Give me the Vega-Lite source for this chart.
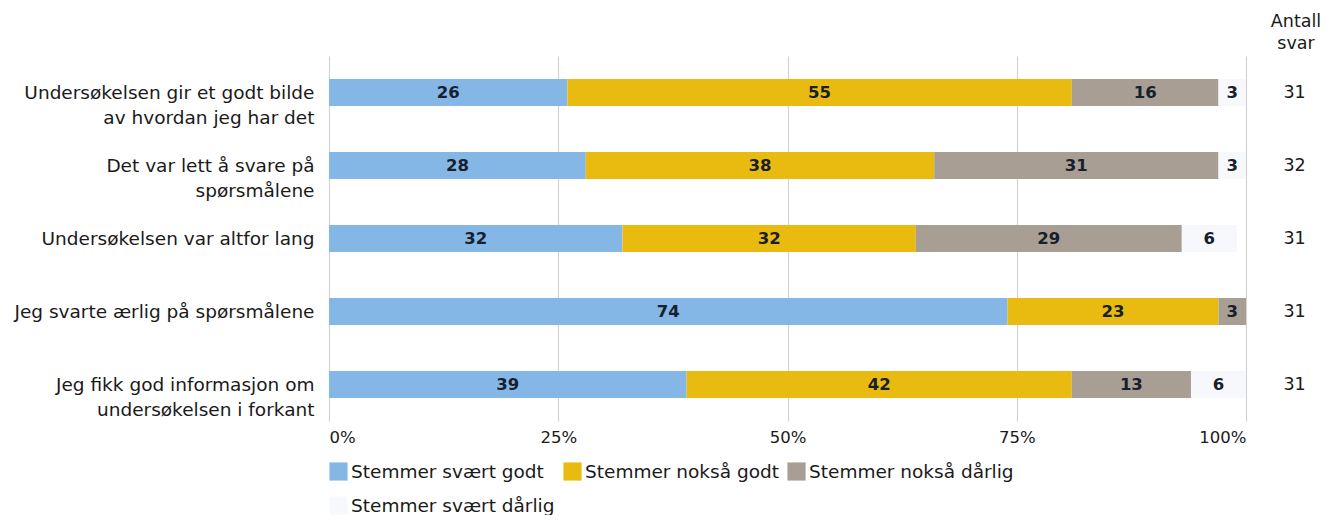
{
  "$schema": "https://vega.github.io/schema/vega-lite/v6.json",
  "width": 917,
  "height": 365,
  "padding": {"left": 13, "top": 12, "right": 5, "bottom": 0},
  "background": "white",
  "config": {
    "font": "DejaVu Sans",
    "view": {"stroke": null},
    "axis": {"labelColor": "#1a1a1a", "labelFont": "DejaVu Sans"},
    "legend": {"labelFont": "DejaVu Sans"}
  },
  "title": {
    "text": ["Antall", "svar"],
    "anchor": "end",
    "frame": "group",
    "align": "center",
    "dx": 50,
    "offset": 4,
    "fontSize": 17.5,
    "fontWeight": "normal",
    "color": "#1a1a1a",
    "lineHeight": 22
  },
  "datasets": {
    "segments": [
      {"question": "Undersøkelsen gir et godt bilde av hvordan jeg har det", "svar": "Stemmer svært godt", "order": 1, "value": 26},
      {"question": "Undersøkelsen gir et godt bilde av hvordan jeg har det", "svar": "Stemmer nokså godt", "order": 2, "value": 55},
      {"question": "Undersøkelsen gir et godt bilde av hvordan jeg har det", "svar": "Stemmer nokså dårlig", "order": 3, "value": 16},
      {"question": "Undersøkelsen gir et godt bilde av hvordan jeg har det", "svar": "Stemmer svært dårlig", "order": 4, "value": 3},
      {"question": "Det var lett å svare på spørsmålene", "svar": "Stemmer svært godt", "order": 1, "value": 28},
      {"question": "Det var lett å svare på spørsmålene", "svar": "Stemmer nokså godt", "order": 2, "value": 38},
      {"question": "Det var lett å svare på spørsmålene", "svar": "Stemmer nokså dårlig", "order": 3, "value": 31},
      {"question": "Det var lett å svare på spørsmålene", "svar": "Stemmer svært dårlig", "order": 4, "value": 3},
      {"question": "Undersøkelsen var altfor lang", "svar": "Stemmer svært godt", "order": 1, "value": 32},
      {"question": "Undersøkelsen var altfor lang", "svar": "Stemmer nokså godt", "order": 2, "value": 32},
      {"question": "Undersøkelsen var altfor lang", "svar": "Stemmer nokså dårlig", "order": 3, "value": 29},
      {"question": "Undersøkelsen var altfor lang", "svar": "Stemmer svært dårlig", "order": 4, "value": 6},
      {"question": "Jeg svarte ærlig på spørsmålene", "svar": "Stemmer svært godt", "order": 1, "value": 74},
      {"question": "Jeg svarte ærlig på spørsmålene", "svar": "Stemmer nokså godt", "order": 2, "value": 23},
      {"question": "Jeg svarte ærlig på spørsmålene", "svar": "Stemmer nokså dårlig", "order": 3, "value": 3},
      {"question": "Jeg fikk god informasjon om undersøkelsen i forkant", "svar": "Stemmer svært godt", "order": 1, "value": 39},
      {"question": "Jeg fikk god informasjon om undersøkelsen i forkant", "svar": "Stemmer nokså godt", "order": 2, "value": 42},
      {"question": "Jeg fikk god informasjon om undersøkelsen i forkant", "svar": "Stemmer nokså dårlig", "order": 3, "value": 13},
      {"question": "Jeg fikk god informasjon om undersøkelsen i forkant", "svar": "Stemmer svært dårlig", "order": 4, "value": 6}
    ],
    "counts": [
      {"question": "Undersøkelsen gir et godt bilde av hvordan jeg har det", "n": 31},
      {"question": "Det var lett å svare på spørsmålene", "n": 32},
      {"question": "Undersøkelsen var altfor lang", "n": 31},
      {"question": "Jeg svarte ærlig på spørsmålene", "n": 31},
      {"question": "Jeg fikk god informasjon om undersøkelsen i forkant", "n": 31}
    ]
  },
  "encoding": {
    "y": {
      "field": "question",
      "type": "nominal",
      "sort": [
        "Undersøkelsen gir et godt bilde av hvordan jeg har det",
        "Det var lett å svare på spørsmålene",
        "Undersøkelsen var altfor lang",
        "Jeg svarte ærlig på spørsmålene",
        "Jeg fikk god informasjon om undersøkelsen i forkant"
      ],
      "scale": {"paddingInner": 0.63, "paddingOuter": 0.315},
      "axis": {
        "title": null,
        "domain": false,
        "ticks": false,
        "labelFontSize": 18.5,
        "labelPadding": 15,
        "labelLimit": 400,
        "labelLineHeight": 25,
        "labelExpr": "datum.label == 'Undersøkelsen gir et godt bilde av hvordan jeg har det' ? ['Undersøkelsen gir et godt bilde', 'av hvordan jeg har det'] : datum.label == 'Det var lett å svare på spørsmålene' ? ['Det var lett å svare på', 'spørsmålene'] : datum.label == 'Jeg fikk god informasjon om undersøkelsen i forkant' ? ['Jeg fikk god informasjon om', 'undersøkelsen i forkant'] : datum.label"
      }
    }
  },
  "layer": [
    {
      "data": {"name": "segments"},
      "transform": [
        {"stack": "value", "groupby": ["question"], "sort": [{"field": "order", "order": "ascending"}], "as": ["x0", "x1"]}
      ],
      "mark": {"type": "bar"},
      "encoding": {
        "x": {
          "field": "x0",
          "type": "quantitative",
          "scale": {"domain": [0, 100], "nice": false},
          "axis": {
            "title": null,
            "values": [0, 25, 50, 75, 100],
            "labelExpr": "datum.value + '%'",
            "labelFlush": true,
            "labelFontSize": 16.5,
            "labelPadding": 8,
            "ticks": false,
            "domain": false,
            "grid": true,
            "gridColor": "#d4d4d4",
            "gridWidth": 1.2
          }
        },
        "x2": {"field": "x1"},
        "color": {
          "field": "svar",
          "type": "nominal",
          "scale": {
            "domain": ["Stemmer svært godt", "Stemmer nokså godt", "Stemmer nokså dårlig", "Stemmer svært dårlig"],
            "range": ["#84b6e6", "#e9bb10", "#a89e93", "#f6f8fb"]
          },
          "legend": {
            "title": null,
            "orient": "bottom",
            "columns": 3,
            "symbolType": "square",
            "symbolSize": 330,
            "symbolStrokeWidth": 0,
            "labelFontSize": 18.5,
            "labelColor": "#1a1a1a",
            "labelLimit": 300,
            "labelOffset": 3,
            "columnPadding": 8,
            "rowPadding": 15,
            "offset": 16
          }
        }
      }
    },
    {
      "data": {"name": "segments"},
      "transform": [
        {"stack": "value", "groupby": ["question"], "sort": [{"field": "order", "order": "ascending"}], "as": ["x0", "x1"]},
        {"calculate": "(datum.x0 + datum.x1) / 2", "as": "mid"}
      ],
      "mark": {"type": "text", "fontSize": 16.5, "fontWeight": "bold", "color": "#17202c"},
      "encoding": {
        "x": {"field": "mid", "type": "quantitative"},
        "text": {"field": "value", "type": "quantitative"}
      }
    },
    {
      "data": {"name": "counts"},
      "mark": {"type": "text", "fontSize": 17.5, "color": "#1a1a1a"},
      "encoding": {
        "x": {"datum": 105.3, "type": "quantitative"},
        "text": {"field": "n", "type": "quantitative"}
      }
    }
  ]
}
